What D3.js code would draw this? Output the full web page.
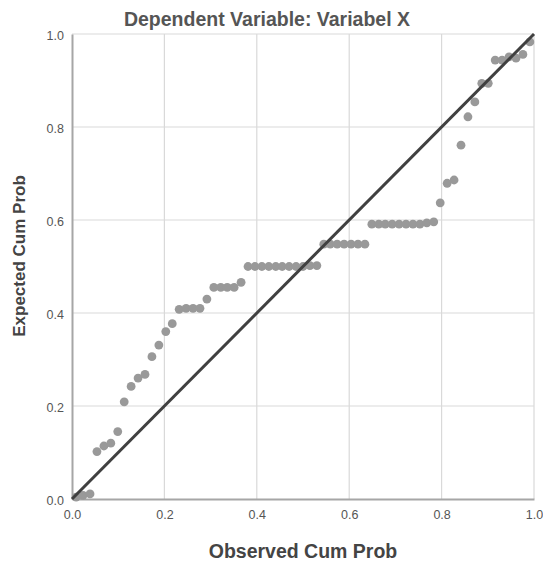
<!DOCTYPE html>
<html>
<head>
<meta charset="utf-8">
<script src="https://cdn.jsdelivr.net/npm/d3@7"></script>
<style>
  body { margin: 0; background: #fff; }
  svg text { font-family: "Liberation Sans", Arial, sans-serif; }
</style>
</head>
<body>
<div id="chart"></div>
<script>
// observed cum prob (x) and expected cum prob (y)
const observedProb = [0.009, 0.024, 0.039, 0.054, 0.069, 0.084, 0.099, 0.113, 0.128, 0.143,
    0.158, 0.173, 0.188, 0.203, 0.217, 0.232, 0.247, 0.262, 0.277, 0.292,
    0.307, 0.322, 0.336, 0.351, 0.366, 0.381, 0.396, 0.411, 0.426, 0.441,
    0.455, 0.470, 0.485, 0.500, 0.515, 0.530, 0.545, 0.559, 0.574, 0.589,
    0.604, 0.619, 0.634, 0.649, 0.664, 0.678, 0.693, 0.708, 0.723, 0.738,
    0.753, 0.768, 0.783, 0.797, 0.812, 0.827, 0.842, 0.857, 0.872, 0.887,
    0.901, 0.916, 0.931, 0.946, 0.961, 0.976, 0.991];
const expectedProb = [0.004, 0.008, 0.011, 0.102, 0.114, 0.120, 0.145, 0.209, 0.242, 0.260,
    0.268, 0.306, 0.331, 0.360, 0.377, 0.408, 0.410, 0.410, 0.410, 0.430,
    0.455, 0.455, 0.455, 0.455, 0.466, 0.500, 0.500, 0.500, 0.500, 0.500,
    0.500, 0.500, 0.500, 0.500, 0.502, 0.502, 0.548, 0.548, 0.548, 0.548,
    0.548, 0.548, 0.548, 0.591, 0.591, 0.591, 0.591, 0.591, 0.591, 0.591,
    0.591, 0.594, 0.596, 0.637, 0.679, 0.686, 0.761, 0.822, 0.854, 0.894,
    0.894, 0.944, 0.944, 0.951, 0.948, 0.956, 0.983];
const tickValues = [0, 0.2, 0.4, 0.6, 0.8, 1.0];

const chartTitle = "Dependent Variable: Variabel X";
const xTitle = "Observed Cum Prob";
const yTitle = "Expected Cum Prob";

const W = 543, H = 565;
const margin = { top: 34, right: 9, bottom: 66, left: 72 };
const w = W - margin.left - margin.right,
    h = H - margin.top - margin.bottom;

const svg = d3.select("#chart").append("svg")
    .attr("width", W)
    .attr("height", H);

const g = svg.append("g")
    .attr("transform", "translate(" + margin.left + "," + margin.top + ")");

const x = d3.scaleLinear().domain([0, 1]).range([0, w]);
const y = d3.scaleLinear().domain([0, 1]).range([h, 0]);

// grid
g.append("g")
    .selectAll("line.vg")
    .data(tickValues.slice(1))
    .join("line")
    .attr("x1", d => x(d)).attr("x2", d => x(d))
    .attr("y1", 0).attr("y2", h)
    .attr("stroke", "#d9d9d9").attr("stroke-width", 1.2);
g.append("g")
    .selectAll("line.hg")
    .data(tickValues.slice(1))
    .join("line")
    .attr("y1", d => y(d)).attr("y2", d => y(d))
    .attr("x1", 0).attr("x2", w)
    .attr("stroke", "#d9d9d9").attr("stroke-width", 1.2);

// axes
const xAxis = g.append("g")
    .attr("transform", "translate(0," + h + ")")
    .call(d3.axisBottom(x).tickValues(tickValues).tickFormat(d3.format(".1f")).tickSize(0).tickPadding(11));
const yAxis = g.append("g")
    .call(d3.axisLeft(y).tickValues(tickValues).tickFormat(d3.format(".1f")).tickSize(0).tickPadding(8));

[xAxis, yAxis].forEach(a => {
    a.select(".domain").attr("stroke", "#a6a6a6").attr("stroke-width", 2);
    a.selectAll("text")
        .attr("fill", "#555")
        .style("font-size", "12.5px");
});
yAxis.selectAll("text").attr("dy", "0.45em");

// points
g.append("g")
    .selectAll("circle")
    .data(observedProb.map((d, i) => [d, expectedProb[i]]))
    .join("circle")
    .attr("cx", d => x(d[0]))
    .attr("cy", d => y(d[1]))
    .attr("r", 4.4)
    .attr("fill", "#999");

// reference diagonal
g.append("line")
    .attr("x1", x(0)).attr("y1", y(0))
    .attr("x2", x(1)).attr("y2", y(1))
    .attr("stroke", "#404040")
    .attr("stroke-width", 3);

// titles
svg.append("text")
    .attr("x", 267).attr("y", 26)
    .attr("text-anchor", "middle")
    .attr("fill", "#555")
    .style("font-size", "19.5px")
    .style("font-weight", "bold")
    .text(chartTitle);

svg.append("text")
    .attr("x", margin.left + w / 2).attr("y", 558)
    .attr("text-anchor", "middle")
    .attr("fill", "#444")
    .style("font-size", "19.5px")
    .style("font-weight", "bold")
    .text(xTitle);

svg.append("text")
    .attr("transform", "translate(25,256) rotate(-90)")
    .attr("text-anchor", "middle")
    .attr("fill", "#444")
    .style("font-size", "17px")
    .style("font-weight", "bold")
    .text(yTitle);
</script>
</body>
</html>
